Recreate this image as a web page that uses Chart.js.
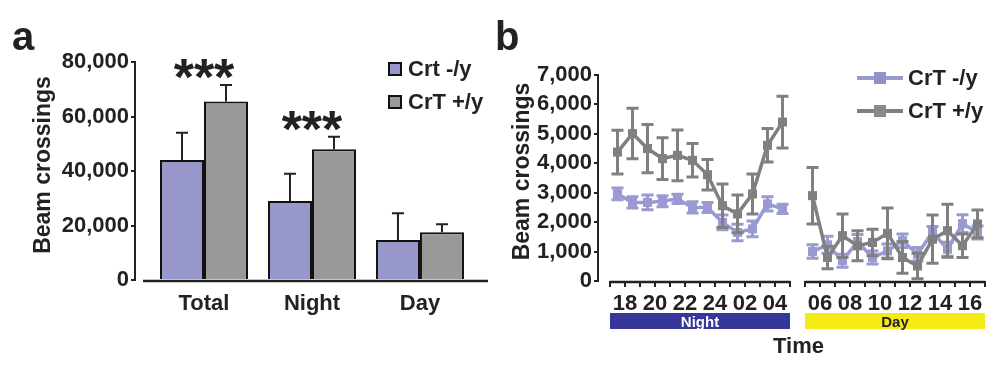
<!DOCTYPE html>
<html>
<head>
<meta charset="UTF-8">
<title>Beam crossings - Crt -/y vs CrT +/y</title>
<script src="https://cdn.jsdelivr.net/npm/chart.js"></script>
<style>
    body {
        margin: 0;
        background: #fff;
        font-family: "Liberation Sans", Arial, sans-serif;
        color: #222;
    }
    #page { position: relative; width: 1000px; height: 372px; overflow: hidden; }
    .panel { position: absolute; top: 0; height: 372px; }
    #panelA { left: 0; width: 495px; }
    #panelB { left: 495px; width: 505px; }
    .tag { position: absolute; font-weight: bold; font-size: 40px; line-height: 40px; }
    .legA {
        position: absolute; display: flex; align-items: center; height: 14px;
        font-weight: bold; font-size: 22px; line-height: 14px; white-space: nowrap;
    }
    .legA .box { width: 14px; height: 14px; box-sizing: border-box; border: 2px solid #111; margin-right: 6px; }
    .legB {
        position: absolute; display: flex; align-items: center; height: 12px;
        font-weight: bold; font-size: 22px; line-height: 12px; white-space: nowrap;
    }
    .legB .swatch { position: relative; width: 46px; height: 12px; margin-right: 5px; }
    .legB .ln { position: absolute; left: 0; right: 0; top: 4px; height: 4px; }
    .legB .pt { position: absolute; left: 17px; top: 0; width: 12px; height: 12px; }
</style>
</head>
<body>
<div id="page">
    <div class="panel" id="panelA"><canvas id="chartA"></canvas></div>
    <div class="panel" id="panelB"><canvas id="chartB"></canvas></div>

    <div class="tag" style="left:12px; top:16px">a</div>
    <div class="tag" style="left:495px; top:16px">b</div>

    <div class="legA" style="left:388px; top:62px"><span class="box" style="background:#9797ca"></span>Crt -/y</div>
    <div class="legA" style="left:388px; top:95px"><span class="box" style="background:#999999"></span>CrT +/y</div>

    <div class="legB" style="left:857px; top:72px">
        <span class="swatch"><span class="ln" style="background:#9a9ad2"></span><span class="pt" style="background:#9191cc"></span></span>CrT -/y
    </div>
    <div class="legB" style="left:857px; top:105px">
        <span class="swatch"><span class="ln" style="background:#808080"></span><span class="pt" style="background:#8a8a8a"></span></span>CrT +/y
    </div>
</div>

<script>
    // ---- panel a: total / night / day beam crossings ----
    const groups = ['Total', 'Night', 'Day'];
    const koTotals = [44000, 29000, 14700];
    const koTotalsErr = [10000, 10000, 9800];
    const wtTotals = [65500, 48000, 17500];
    const wtTotalsErr = [6100, 4600, 3000];
    const signif = ['***', '***', ''];

    // ---- panel b: hourly beam crossings (12 night bins, 12 day bins) ----
    const nightTickLabels = ['18', '20', '22', '24', '02', '04'];
    const dayTickLabels = ['06', '08', '10', '12', '14', '16'];
    const koNight = [2960, 2670, 2670, 2710, 2790, 2500, 2500, 1990, 1650, 1770, 2620, 2450];
    const koNightErr = [200, 190, 250, 190, 160, 190, 170, 250, 280, 270, 240, 160];
    const wtNight = [4380, 5010, 4500, 4160, 4270, 4100, 3610, 2560, 2280, 2960, 4610, 5400];
    const wtNightErr = [740, 860, 820, 710, 860, 570, 520, 740, 640, 680, 570, 880];
    const koDay = [1000, 1230, 690, 1340, 800, 1020, 1370, 910, 1650, 1080, 1950, 1650];
    const koDayErr = [230, 290, 220, 240, 220, 240, 230, 230, 200, 240, 300, 220];
    const wtDay = [2900, 800, 1540, 1200, 1310, 1620, 800, 510, 1420, 1710, 1200, 1940];
    const wtDayErr = [960, 380, 740, 510, 450, 860, 540, 430, 820, 900, 400, 470];

    const ink = '#222';
    const font = "'Liberation Sans', Arial, sans-serif";
    Chart.defaults.font.family = font;
    Chart.defaults.font.weight = 'bold';

    function drawYTitle(ctx, text, x, y) {
        ctx.save();
        ctx.translate(x, y);
        ctx.rotate(-Math.PI / 2);
        ctx.font = 'bold 23px ' + font;
        ctx.fillStyle = ink;
        ctx.textAlign = 'center';
        ctx.textBaseline = 'middle';
        ctx.fillText(text, 0, 0);
        ctx.restore();
    }

    // error bars (upper only), significance stars, offset x axis
    const panelAExtras = {
        id: 'panelAExtras',
        afterDatasetsDraw(chart) {
            const ctx = chart.ctx;
            const xs = chart.scales.x, ys = chart.scales.y;
            const errs = [koTotalsErr, wtTotalsErr];
            ctx.save();
            ctx.strokeStyle = ink;
            ctx.lineWidth = 2;
            chart.data.datasets.forEach((ds, d) => {
                chart.getDatasetMeta(d).data.forEach((bar, i) => {
                    const top = ys.getPixelForValue(ds.data[i].y + errs[d][i]);
                    ctx.beginPath();
                    ctx.moveTo(bar.x, bar.y);
                    ctx.lineTo(bar.x, top);
                    ctx.moveTo(bar.x - 6, top);
                    ctx.lineTo(bar.x + 6, top);
                    ctx.stroke();
                });
            });

            ctx.fillStyle = ink;
            ctx.font = 'bold 52px ' + font;
            ctx.textAlign = 'center';
            ctx.textBaseline = 'alphabetic';
            signif.forEach((s, i) => {
                if (!s) return;
                const hi = Math.max(koTotals[i] + koTotalsErr[i], wtTotals[i] + wtTotalsErr[i]);
                ctx.fillText(s, xs.getPixelForValue(i), ys.getPixelForValue(hi) + 10);
            });

            const area = chart.chartArea;
            ctx.lineWidth = 2.5;
            ctx.beginPath();
            ctx.moveTo(area.left + 8, area.bottom + 1);
            ctx.lineTo(area.right, area.bottom + 1);
            ctx.stroke();
            ctx.restore();

            drawYTitle(ctx, 'Beam crossings', 44, 165);
        }
    };

    new Chart(document.getElementById('chartA'), {
        type: 'bar',
        data: {
            datasets: [{
                label: 'Crt -/y',
                data: groups.map((g, i) => ({ x: i, y: koTotals[i] })),
                backgroundColor: '#9797ca',
                borderColor: '#111',
                borderWidth: 2,
                categoryPercentage: 0.815,
                barPercentage: 1
            }, {
                label: 'CrT +/y',
                data: groups.map((g, i) => ({ x: i, y: wtTotals[i] })),
                backgroundColor: '#999999',
                borderColor: '#111',
                borderWidth: 2,
                categoryPercentage: 0.815,
                barPercentage: 1
            }]
        },
        options: {
            responsive: true,
            maintainAspectRatio: false,
            animation: false,
            layout: { padding: { top: 62, right: 7, left: 0, bottom: 0 } },
            plugins: { legend: { display: false }, tooltip: { enabled: false } },
            scales: {
                x: {
                    type: 'linear',
                    min: -0.639,
                    max: 2.63,
                    offset: false,
                    afterBuildTicks: s => { s.ticks = groups.map((g, i) => ({ value: i })); },
                    afterFit: s => { s.height = 92; },
                    border: { display: false },
                    grid: { display: false },
                    ticks: {
                        callback: v => groups[v] ?? '',
                        font: { size: 22, weight: 'bold' },
                        color: ink,
                        padding: 3,
                        maxRotation: 0,
                        autoSkip: false
                    }
                },
                y: {
                    min: 0,
                    max: 80000,
                    afterFit: s => { s.width = 135; },
                    border: { color: ink, width: 2 },
                    grid: { drawOnChartArea: false, drawTicks: true, tickLength: 4, color: ink, lineWidth: 2 },
                    ticks: {
                        stepSize: 10000,
                        callback: v => v % 20000 === 0 ? v.toLocaleString('en-US') : '',
                        font: { size: 22, weight: 'bold' },
                        color: ink,
                        padding: 2
                    }
                }
            }
        },
        plugins: [panelAExtras]
    });

    // ---- panel b ----
    const koLine = '#9a9ad2';
    const wtLine = '#808080';

    function series(label, values, errors, pos, color) {
        return {
            label: label,
            data: values.map((v, i) => ({ x: pos(i), y: v })),
            errors: errors,
            borderColor: color,
            backgroundColor: color,
            borderWidth: 3.5,
            pointStyle: 'rect',
            pointRadius: 6.4,
            pointBorderWidth: 0,
            tension: 0
        };
    }
    const nightPos = i => i - 0.5;   // hour bins 17-05, label "18" at 0
    const dayPos = i => i + 12.5;    // hour bins 05-17, after the axis break

    const panelBExtras = {
        id: 'panelBExtras',
        afterDatasetDraw(chart, args) {
            const ds = chart.data.datasets[args.index];
            const ctx = chart.ctx, ys = chart.scales.y;
            ctx.save();
            ctx.strokeStyle = ds.borderColor;
            ctx.lineWidth = 3;
            args.meta.data.forEach((pt, i) => {
                const v = ds.data[i].y, e = ds.errors[i];
                const hi = ys.getPixelForValue(v + e), lo = ys.getPixelForValue(v - e);
                ctx.beginPath();
                ctx.moveTo(pt.x, hi); ctx.lineTo(pt.x, lo);
                ctx.moveTo(pt.x - 6, hi); ctx.lineTo(pt.x + 6, hi);
                ctx.moveTo(pt.x - 6, lo); ctx.lineTo(pt.x + 6, lo);
                ctx.stroke();
            });
            ctx.restore();
        },
        afterDraw(chart) {
            const ctx = chart.ctx, xs = chart.scales.x;
            const bottom = chart.chartArea.bottom;
            const segs = [
                { from: -1, to: 11, fill: '#35379a', text: 'Night', color: '#fff' },
                { from: 12, to: 24, fill: '#f5ea14', text: 'Day', color: ink }
            ];
            ctx.save();
            segs.forEach(s => {
                const x0 = xs.getPixelForValue(s.from), x1 = xs.getPixelForValue(s.to);
                ctx.strokeStyle = ink;
                ctx.lineWidth = 2.5;
                ctx.beginPath();
                ctx.moveTo(x0, bottom + 1);
                ctx.lineTo(x1, bottom + 1);
                ctx.stroke();
                ctx.fillStyle = s.fill;
                ctx.fillRect(x0, bottom + 32, x1 - x0, 16);
                ctx.fillStyle = s.color;
                ctx.font = 'bold 15px ' + font;
                ctx.textAlign = 'center';
                ctx.textBaseline = 'alphabetic';
                ctx.fillText(s.text, (x0 + x1) / 2, bottom + 46);
            });
            ctx.fillStyle = ink;
            ctx.font = 'bold 22px ' + font;
            ctx.textAlign = 'center';
            ctx.fillText('Time', (xs.getPixelForValue(-1) + xs.getPixelForValue(24)) / 2 + 1, bottom + 72);
            ctx.restore();

            drawYTitle(ctx, 'Beam crossings', 28, 171.5);
        }
    };

    const bTicks = [];
    for (let v = -1; v <= 24; v++) bTicks.push({ value: v });

    new Chart(document.getElementById('chartB'), {
        type: 'line',
        data: {
            datasets: [
                series('CrT +/y', wtNight, wtNightErr, nightPos, wtLine),
                series('CrT +/y', wtDay, wtDayErr, dayPos, wtLine),
                series('CrT -/y', koNight, koNightErr, nightPos, koLine),
                series('CrT -/y', koDay, koDayErr, dayPos, koLine)
            ]
        },
        options: {
            responsive: true,
            maintainAspectRatio: false,
            animation: false,
            layout: { padding: { top: 75, right: 15, left: 0, bottom: 0 } },
            plugins: { legend: { display: false }, tooltip: { enabled: false } },
            scales: {
                x: {
                    type: 'linear',
                    min: -1.8,
                    max: 24,
                    offset: false,
                    afterBuildTicks: s => { s.ticks = bTicks.map(t => ({ value: t.value })); },
                    afterFit: s => { s.height = 91; },
                    border: { display: false },
                    grid: { drawOnChartArea: false, drawTicks: true, tickLength: 6, color: ink, lineWidth: 2 },
                    ticks: {
                        callback: v => {
                            if (v >= 0 && v <= 10 && v % 2 === 0) return nightTickLabels[v / 2];
                            if (v >= 13 && v <= 23 && (v - 13) % 2 === 0) return dayTickLabels[(v - 13) / 2];
                            return '';
                        },
                        font: { size: 22, weight: 'bold' },
                        color: ink,
                        padding: 4,
                        maxRotation: 0,
                        autoSkip: false
                    }
                },
                y: {
                    min: 0,
                    max: 7000,
                    afterFit: s => { s.width = 103; },
                    border: { color: ink, width: 2 },
                    grid: { drawOnChartArea: false, drawTicks: true, tickLength: 4, color: ink, lineWidth: 2 },
                    ticks: {
                        stepSize: 1000,
                        callback: v => v.toLocaleString('en-US'),
                        font: { size: 22, weight: 'bold' },
                        color: ink,
                        padding: 2
                    }
                }
            }
        },
        plugins: [panelBExtras]
    });
</script>
</body>
</html>
